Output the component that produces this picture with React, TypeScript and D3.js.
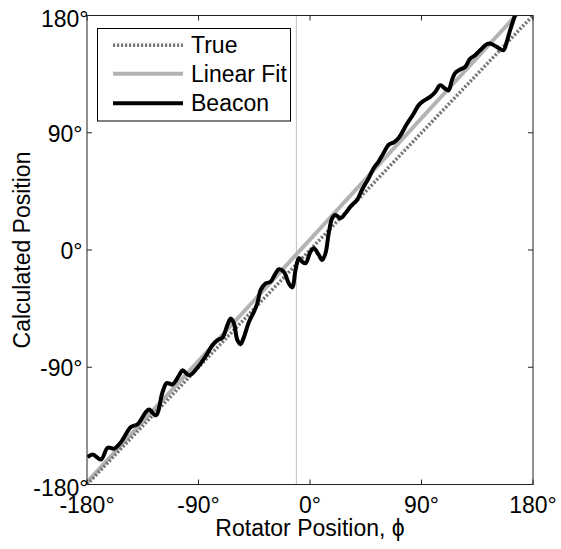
import React from "react";
import * as d3 from "d3";

const tickValues = [-180, -90, 0, 90, 180];
const tickLabels = ["-180°", "-90°", "0°", "90°", "180°"];

const beaconX = [-179.5, -175.4, -168.7, -163.3, -158.0, -152.6, -144.6, -139.2, -132.5, -129.8, -124.4, -119.0, -115.6, -111.0, -105.7, -102.9, -97.6, -90.8, -84.2, -78.8, -74.7, -70.7, -66.7, -64.0, -61.4, -58.6, -56.0, -53.3, -49.3, -45.3, -42.5, -39.9, -35.8, -31.8, -27.8, -25.1, -21.1, -17.1, -14.3, -11.7, -9.0, -6.3, -3.6, 0.4, 3.1, 7.1, 9.8, 12.5, 15.1, 17.9, 20.5, 24.6, 28.6, 32.6, 38.0, 42.0, 47.4, 51.4, 55.4, 59.4, 63.5, 67.5, 71.5, 78.3, 83.6, 87.6, 91.6, 97.0, 101.1, 105.1, 109.1, 111.8, 114.5, 117.2, 121.2, 125.2, 129.3, 133.3, 137.3, 142.7, 145.4, 150.8, 156.1, 158.8, 161.5, 165.5];
const beaconY = [-159.0, -156.9, -160.8, -151.8, -152.5, -147.5, -135.9, -133.8, -124.4, -122.5, -126.9, -109.0, -102.1, -103.1, -96.2, -92.3, -96.2, -90.2, -81.5, -73.1, -69.2, -67.2, -57.7, -52.5, -56.4, -69.2, -72.3, -66.7, -55.2, -47.5, -41.0, -30.8, -25.6, -24.4, -17.9, -14.8, -16.7, -25.6, -28.7, -15.4, -6.2, -9.0, -10.2, -1.3, 1.3, -3.8, -7.7, -2.5, 12.8, 24.4, 26.9, 24.4, 28.2, 33.3, 38.5, 46.2, 55.2, 62.8, 67.9, 74.4, 80.8, 82.5, 85.9, 96.9, 104.6, 111.0, 114.4, 117.5, 121.3, 126.4, 123.8, 122.5, 130.2, 135.9, 138.5, 140.5, 146.9, 149.5, 153.3, 157.9, 158.5, 155.9, 153.3, 159.8, 168.7, 180.2];

const fitSlope = 1.035;
const fitIntercept = 8;
const markerX = -11;

const legendLabels = ["True", "Linear Fit", "Beacon"];

export default function App() {
  const W = 561, H = 549;
  const left = 87, right = 533, top = 15.5, bottom = 484.5;
  const x = d3.scaleLinear().domain([-180, 180]).range([left, right]);
  const y = d3.scaleLinear().domain([-180, 180]).range([bottom, top]);
  const font = "Arial, 'Liberation Sans', sans-serif";

  const pts: [number, number][] = beaconX.map((v, i) => [v, beaconY[i]]);
  const beaconPath = d3
    .line<[number, number]>()
    .x((d) => x(d[0]))
    .y((d) => y(d[1]))
    .curve(d3.curveCatmullRom.alpha(0.5))(pts) as string;

  const fitPts: [number, number][] = [-180, 180].map((v) => [v, fitSlope * v + fitIntercept]);
  const truePts: [number, number][] = [[-180, -180], [180, 180]];
  const ln = d3.line<[number, number]>().x((d) => x(d[0])).y((d) => y(d[1]));

  const tick = 5;
  const legendRows = [45.3, 73.7, 103.3];

  return (
    <svg width={W} height={H} style={{ position: "absolute", left: 0, top: 0, background: "#fff" }}>
      <defs>
        <clipPath id="plotclip">
          <rect x={left} y={top} width={right - left} height={bottom - top} />
        </clipPath>
      </defs>
      <rect x={0} y={0} width={W} height={H} fill="#fff" />
      <g clipPath="url(#plotclip)">
        <line x1={x(markerX)} x2={x(markerX)} y1={top} y2={bottom} stroke="#bdbdbd" strokeWidth={1} />
        <path d={ln(fitPts) as string} stroke="#b3b3b3" strokeWidth={4} fill="none" />
        <path d={ln(truePts) as string} stroke="#777" strokeWidth={3.5} strokeDasharray="2.2 1.8" fill="none" />
        <path d={beaconPath} stroke="#000" strokeWidth={4} fill="none" strokeLinejoin="round" />
      </g>
      <rect x={left} y={top} width={right - left} height={bottom - top} fill="none" stroke="#222" strokeWidth={1} />
      {tickValues.map((v, i) => {
        const edge = Math.abs(v) === 180;
        return (
          <g key={"t" + i}>
            <line x1={x(v)} x2={x(v)} y1={bottom} y2={bottom - tick} stroke="#222" />
            <line x1={x(v)} x2={x(v)} y1={top} y2={top + tick} stroke="#222" />
            <line x1={left} x2={left + tick} y1={y(v)} y2={y(v)} stroke="#222" />
            <line x1={right} x2={right - tick} y1={y(v)} y2={y(v)} stroke="#222" />
            <text x={x(v)} y={512.5} textAnchor="middle" fontFamily={font} fontSize={23} fill="#000">
              {tickLabels[i]}
            </text>
            <text
              x={edge ? left + 1.5 : left - 4.5}
              y={y(v) + (edge ? 11 : 9)}
              textAnchor="end"
              fontFamily={font}
              fontSize={23}
              fill="#000"
            >
              {tickLabels[i]}
            </text>
          </g>
        );
      })}
      <text x={(left + right) / 2} y={536} textAnchor="middle" fontFamily={font} fontSize={23} fill="#000">
        Rotator Position, ϕ
      </text>
      <text
        transform={`translate(30, ${(top + bottom) / 2}) rotate(-90)`}
        textAnchor="middle"
        fontFamily={font}
        fontSize={23}
        fill="#000"
      >
        Calculated Position
      </text>
      <g>
        <rect x={97.5} y={28.5} width={193} height={92.5} fill="#fff" stroke="#000" strokeWidth={1} />
        {legendLabels.map((lab, i) => (
          <g key={lab}>
            <line
              x1={113}
              x2={183}
              y1={legendRows[i]}
              y2={legendRows[i]}
              stroke={i === 0 ? "#777" : i === 1 ? "#b3b3b3" : "#000"}
              strokeWidth={i === 0 ? 3.5 : 4}
              strokeDasharray={i === 0 ? "2.2 1.8" : undefined}
            />
            <text x={191} y={legendRows[i] + 8} fontFamily={font} fontSize={23} fill="#000">
              {lab}
            </text>
          </g>
        ))}
      </g>
    </svg>
  );
}
